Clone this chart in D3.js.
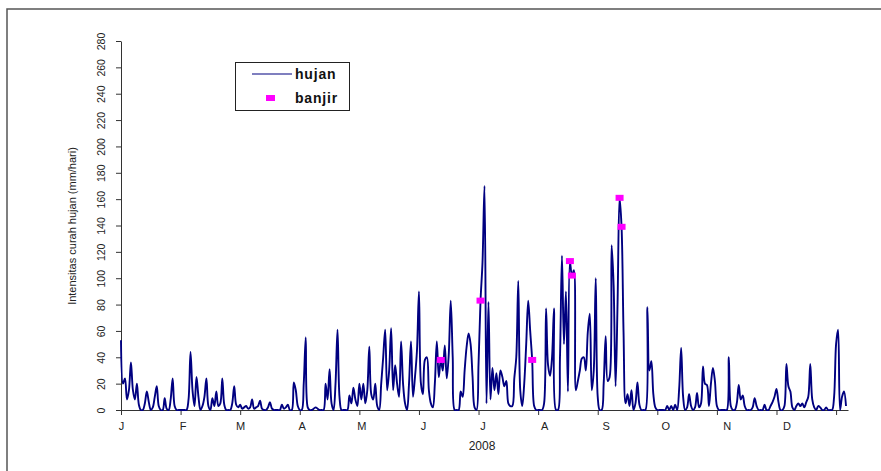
<!DOCTYPE html>
<html>
<head>
<meta charset="utf-8">
<script src="https://cdn.jsdelivr.net/npm/d3@7"></script>
<style>
  html, body { margin: 0; padding: 0; background: #fff; }
  svg { display: block; font-family: "Liberation Sans", Arial, sans-serif; }
</style>
</head>
<body>
<svg id="chart" width="881" height="471"></svg>
<script>
// Curah hujan harian 2008 (mm/hari), satu larik per bulan
const jan = [53,20,24,8,15,36,15,8,20,4, 0,0,5,14,6,0,2,10,18,3, 0,0,9,1,0,8,24,3,0,0, 0];
const feb = [0,0,0,8,44,15,3,25,10,0, 3,10,24,3,0,9,3,14,3,5, 24,4,0,0,0,5,18,4,2];
const mar = [4,1,2,3,1,2,8,1,2,3, 7,1,0,0,2,6,1,0,0,0, 0,4,1,2,4,0,0,21,15,3, 0];
const apr = [0,20,55,2,0,0,1,2,1,0, 0,0,20,8,31,5,0,20,61,10, 0,0,0,0,11,5,17,8,3,20];
const mei = [8,20,5,15,48,12,8,20,3,0, 20,40,61,15,30,62,15,34,20,10, 52,20,5,0,20,52,10,25,45,90, 20];
const jun = [12,38,40,15,5,2,20,52,25,38, 30,49,24,42,83,40,0,0,0,14, 10,30,48,58,50,25,2,0,35,83];
const jul = [112,170,5,82,8,32,15,28,12,30, 25,18,22,5,3,3,24,40,98,15, 3,20,50,83,60,38,3,0,0,0, 0];
const agu = [5,77,34,26,40,77,0,0,40,117, 50,90,14,113,102,106,15,22,30,39, 40,30,59,73,15,30,100,10,0,0, 20];
const sep = [56,22,25,125,95,18,82,161,139,59, 5,12,3,15,0,5,21,4,0,0, 0,78,30,37,12,2,0,0,0,0];
const okt = [0,3,0,3,0,4,0,16,47,10, 0,2,12,3,0,2,13,2,5,33, 20,19,3,20,32,22,3,0,0,0, 0];
const nov = [0,40,3,0,0,5,19,8,11,3, 0,0,0,2,9,3,0,0,0,4, 0,0,3,6,10,16,6,0,0,3];
const des = [35,18,14,2,0,3,5,3,5,2, 6,10,35,8,2,0,3,2,0,0, 2,0,0,0,10,50,61,0,10,14, 3];

// Hari kejadian banjir dan curah hujan pada hari itu
const banjirTanggal = ["2008-06-10","2008-06-30","2008-07-26","2008-08-14","2008-08-15","2008-09-08","2008-09-09"];
const banjirNilai = [38, 83, 38, 113, 102, 161, 139];

// Label sumbu
const labelBulan = ["J","F","M","A","M","J","J","A","S","O","N","D"];
const tickY = [0,20,40,60,80,100,120,140,160,180,200,220,240,260,280];

const hujan = [].concat(jan, feb, mar, apr, mei, jun, jul, agu, sep, okt, nov, des)
  .map((v, i) => ({ date: new Date(2008, 0, 1 + i), value: v }));
const banjir = banjirTanggal.map((t, i) => {
  const [yy, mm, dd] = t.split("-").map(Number);
  return { date: new Date(yy, mm - 1, dd), value: banjirNilai[i] };
});

const svg = d3.select("#chart");
const NAVY = "#000080", MAGENTA = "#ff00ff";

const x = d3.scaleTime()
  .domain([new Date(2008, 0, 1), new Date(2009, 0, 1)])
  .range([121, 848]);
const y = d3.scaleLinear().domain([0, 280]).range([410, 41]);

// Bingkai area grafik
svg.append("path")
  .attr("d", "M7,471 L7,9 L881,9")
  .attr("fill", "none").attr("stroke", "#555").attr("stroke-width", 1.5);

// Sumbu Y dengan label tegak
const gy = svg.append("g").attr("transform", "translate(121,0)")
  .call(d3.axisLeft(y).tickValues(tickY).tickSize(5).tickSizeOuter(0));
gy.select(".domain").attr("stroke", "#333");
gy.selectAll(".tick line").attr("stroke", "#333");
gy.selectAll(".tick text")
  .attr("x", null).attr("dy", "0.35em")
  .attr("text-anchor", "middle")
  .attr("transform", "translate(-20,0) rotate(-90)")
  .attr("font-size", 10.5).attr("fill", "#222");

svg.append("text")
  .attr("transform", "translate(72,226) rotate(-90)")
  .attr("text-anchor", "middle").attr("dy", "0.35em")
  .attr("font-size", 11).attr("fill", "#222")
  .text("Intensitas curah hujan (mm/hari)");

// Sumbu X: garis tick tiap 30 hari, label di awal bulan
const tickHari = d3.range(0, 361, 30).map(d => new Date(2008, 0, 1 + d));
const gx = svg.append("g").attr("transform", "translate(0,410)")
  .call(d3.axisBottom(x).tickValues(tickHari).tickSize(5).tickSizeOuter(0).tickFormat(""));
gx.select(".domain").attr("stroke", "#333");
gx.selectAll(".tick line").attr("stroke", "#333");

const awalBulan = d3.range(12).map(m => new Date(2008, m, 1));
const gxl = svg.append("g").attr("transform", "translate(0,410)")
  .call(d3.axisBottom(x).tickValues(awalBulan).tickSize(0)
    .tickFormat((d, i) => labelBulan[i]));
gxl.select(".domain").remove();
gxl.selectAll(".tick text").attr("dy", null).attr("y", 20)
  .attr("font-size", 11).attr("fill", "#222");

svg.append("text")
  .attr("x", 482).attr("y", 450).attr("text-anchor", "middle")
  .attr("font-size", 12).attr("fill", "#222").text("2008");

// Garis hujan (dihaluskan), dipotong pada batas bawah area plot
svg.append("clipPath").attr("id", "plot-clip")
  .append("rect").attr("x", 115).attr("y", 30).attr("width", 746).attr("height", 381);

const line = d3.line()
  .x(d => x(d.date)).y(d => y(d.value))
  .curve(d3.curveCatmullRom.alpha(0.5));

svg.append("path")
  .datum(hujan)
  .attr("clip-path", "url(#plot-clip)")
  .attr("fill", "none").attr("stroke", NAVY)
  .attr("stroke-width", 1.9).attr("stroke-linejoin", "round")
  .attr("d", line);

// Penanda banjir
svg.append("g").selectAll("rect").data(banjir).join("rect")
  .attr("x", d => x(d.date) - 4).attr("y", d => y(d.value) - 3)
  .attr("width", 8).attr("height", 6)
  .attr("fill", MAGENTA);

// Legenda
const lg = svg.append("g");
lg.append("rect").attr("x", 235.5).attr("y", 62.5).attr("width", 114).attr("height", 48)
  .attr("fill", "#fff").attr("stroke", "#222").attr("stroke-width", 1);
lg.append("line").attr("x1", 252).attr("x2", 292).attr("y1", 74).attr("y2", 74)
  .attr("stroke", NAVY).attr("stroke-width", 1.2);
lg.append("text").attr("x", 295).attr("y", 79).text("hujan")
  .attr("font-size", 14).attr("font-weight", "bold").attr("letter-spacing", 0.8).attr("fill", "#111");
lg.append("rect").attr("x", 266).attr("y", 95).attr("width", 9).attr("height", 6).attr("fill", MAGENTA);
lg.append("text").attr("x", 295).attr("y", 103).text("banjir")
  .attr("font-size", 14).attr("font-weight", "bold").attr("letter-spacing", 0.8).attr("fill", "#111");
</script>
</body>
</html>
